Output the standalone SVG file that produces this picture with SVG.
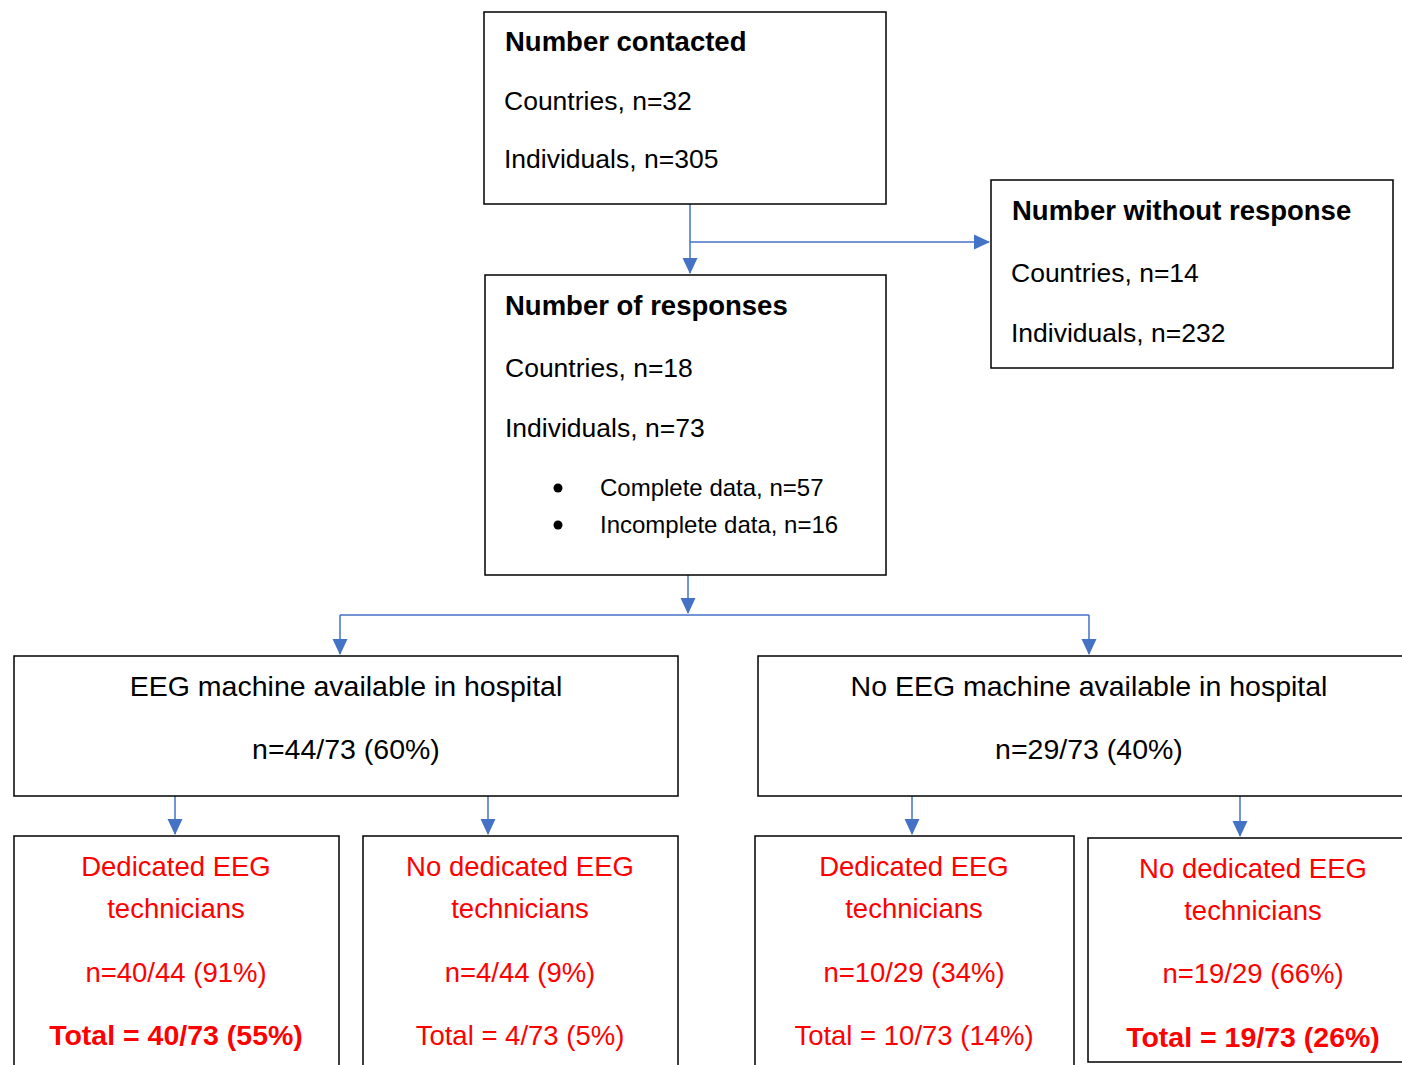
<svg xmlns="http://www.w3.org/2000/svg" width="1402" height="1065" viewBox="0 0 1402 1065">
<style>
text{font-family:"Liberation Sans",Arial,sans-serif;fill:#000}
.b{font-weight:bold}
.t{font-size:26.5px}
.h{font-size:27.5px;font-weight:bold}
.s{font-size:24px}
.m{font-size:28.5px;text-anchor:middle}
.r{font-size:27.5px;text-anchor:middle;fill:#FF0000}
.rb{font-size:28.5px;font-weight:bold}
.box{fill:#fff;stroke:#000;stroke-width:1.5}
.c{fill:none;stroke:#4472C4;stroke-width:1.5}
</style>
<defs>
<marker id="ah" markerUnits="userSpaceOnUse" markerWidth="16" markerHeight="16" viewBox="0 0 16 16" refX="15" refY="8" orient="auto">
<path d="M0,0.5 L16,8 L0,15.5 Z" fill="#4472C4"/>
</marker>
</defs>
<g id="connectors">
<path class="c" d="M690,204 V273" marker-end="url(#ah)"/>
<path class="c" d="M690,242 H989" marker-end="url(#ah)"/>
<path class="c" d="M688,575 V613" marker-end="url(#ah)"/>
<path class="c" d="M340,615 H1089"/>
<path class="c" d="M340,615 V654" marker-end="url(#ah)"/>
<path class="c" d="M1089,615 V654" marker-end="url(#ah)"/>
<path class="c" d="M175,796 V834" marker-end="url(#ah)"/>
<path class="c" d="M488,796 V834" marker-end="url(#ah)"/>
<path class="c" d="M912,796 V834" marker-end="url(#ah)"/>
<path class="c" d="M1240,796 V836" marker-end="url(#ah)"/>
</g>
<g id="contacted">
<rect class="box" x="484" y="12" width="402" height="192"/>
<text class="h" x="505" y="51">Number contacted</text>
<text class="t" x="504" y="110">Countries, n=32</text>
<text class="t" x="504" y="168">Individuals, n=305</text>
</g>
<g id="noresponse">
<rect class="box" x="991" y="180" width="402" height="188"/>
<text class="h" x="1012" y="220">Number without response</text>
<text class="t" x="1011" y="282">Countries, n=14</text>
<text class="t" x="1011" y="342">Individuals, n=232</text>
</g>
<g id="responses">
<rect class="box" x="485" y="275" width="401" height="300"/>
<text class="h" x="505" y="315">Number of responses</text>
<text class="t" x="505" y="377">Countries, n=18</text>
<text class="t" x="505" y="437">Individuals, n=73</text>
<circle cx="558" cy="488" r="4.5" fill="#000"/>
<circle cx="558" cy="525" r="4.5" fill="#000"/>
<text class="s" x="600" y="496">Complete data, n=57</text>
<text class="s" x="600" y="533">Incomplete data, n=16</text>
</g>
<g id="eeg">
<rect class="box" x="14" y="656" width="664" height="140"/>
<text class="m" x="346" y="696">EEG machine available in hospital</text>
<text class="m" x="346" y="759">n=44/73 (60%)</text>
</g>
<g id="noeeg">
<rect class="box" x="758" y="656" width="662" height="140"/>
<text class="m" x="1089" y="696">No EEG machine available in hospital</text>
<text class="m" x="1089" y="759">n=29/73 (40%)</text>
</g>
<g id="eeg-dedicated">
<rect class="box" x="14" y="836" width="325" height="240"/>
<text class="r" x="176" y="876">Dedicated EEG</text>
<text class="r" x="176" y="918">technicians</text>
<text class="r" x="176" y="982">n=40/44 (91%)</text>
<text class="r rb" x="176" y="1045">Total = 40/73 (55%)</text>
</g>
<g id="eeg-nodedicated">
<rect class="box" x="363" y="836" width="315" height="240"/>
<text class="r" x="520" y="876">No dedicated EEG</text>
<text class="r" x="520" y="918">technicians</text>
<text class="r" x="520" y="982">n=4/44 (9%)</text>
<text class="r" x="520" y="1045">Total = 4/73 (5%)</text>
</g>
<g id="noeeg-dedicated">
<rect class="box" x="755" y="836" width="319" height="240"/>
<text class="r" x="914" y="876">Dedicated EEG</text>
<text class="r" x="914" y="918">technicians</text>
<text class="r" x="914" y="982">n=10/29 (34%)</text>
<text class="r" x="914" y="1045">Total = 10/73 (14%)</text>
</g>
<g id="noeeg-nodedicated">
<rect class="box" x="1088" y="838" width="330" height="224"/>
<text class="r" x="1253" y="878">No dedicated EEG</text>
<text class="r" x="1253" y="920">technicians</text>
<text class="r" x="1253" y="983">n=19/29 (66%)</text>
<text class="r rb" x="1253" y="1047">Total = 19/73 (26%)</text>
</g>
</svg>
